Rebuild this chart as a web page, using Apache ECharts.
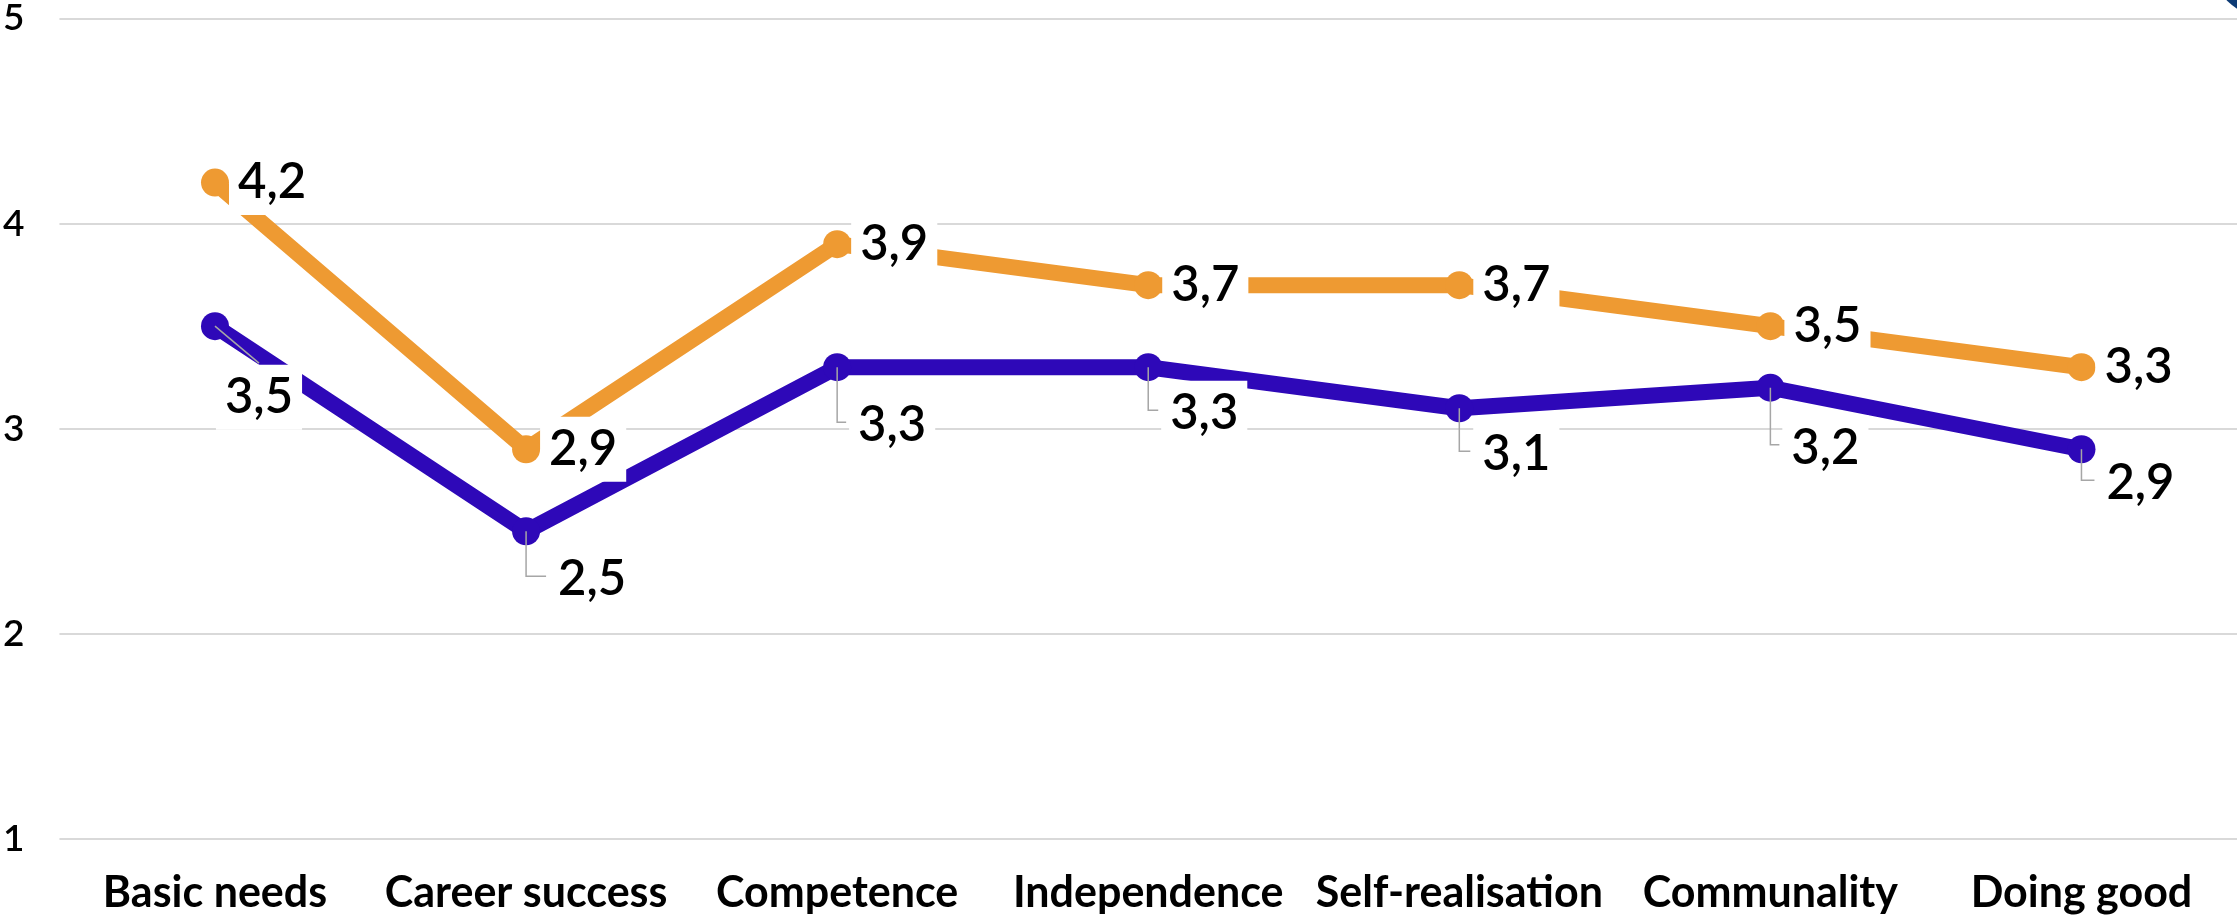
<!DOCTYPE html>
<html>
<head>
<meta charset="utf-8">
<script src="https://cdn.jsdelivr.net/npm/echarts@6/dist/echarts.min.js"></script>
<style>
  html, body { margin: 0; padding: 0; background: #ffffff; }
  #chart { width: 2237px; height: 917px; }
</style>
</head>
<body>
<div id="chart"></div>
<script>
// Categories along the x axis
const categories = ['Basic needs', 'Career success', 'Competence', 'Independence', 'Self-realisation', 'Communality', 'Doing good'];
// Upper (orange) series
const orangeValues = [4.2, 2.9, 3.9, 3.7, 3.7, 3.5, 3.3];
// Lower (blue) series
const blueValues = [3.5, 2.5, 3.3, 3.3, 3.1, 3.2, 2.9];
// Value axis range and step
const yMin = 1;
const yMax = 5;
const yStep = 1;

const ORANGE = '#EE9A32';
const BLUE = '#2E08B8';
const GUIDE = '#a6a6a6';
const FONT = 'Lato, "Open Sans", sans-serif';

// decimal comma
const fmt = v => Number(v).toFixed(1).replace('.', ',');

// where each lower-series label sits relative to its point (pixels)
const blueLabelShift = [[44, 71], [66, 48], [55, 58], [56, 46], [57, 46], [55, 60], [59, 34]];
// half label width plus a small gap, used to stop the guide line before the text
const GUIDE_GAP = 46;

const valueLabel = {
  fontFamily: FONT,
  fontSize: 49,
  fontWeight: 600,
  color: '#000',
  backgroundColor: '#ffffff',
  padding: [8, 9],
  formatter: p => fmt(p.value)
};

const blueData = blueValues.map((v, i) => ({
  value: v,
  label: { offset: blueLabelShift[i] }
}));

// guide lines from each lower point to its label
function renderGuide(params, api) {
  const i = params.dataIndex;
  const p = api.coord([api.value(0), api.value(1)]);
  const dx = blueLabelShift[i][0];
  const dy = blueLabelShift[i][1];
  let pts;
  if (dy > 65) {
    // label far below: straight line into the top of the label box
    pts = [p, [p[0] + dx, p[1] + dy - 34]];
  } else {
    pts = [p, [p[0], p[1] + dy - 3], [p[0] + dx - GUIDE_GAP, p[1] + dy - 3]];
  }
  return {
    type: 'polyline',
    shape: { points: pts },
    style: { stroke: GUIDE, lineWidth: 1.5, fill: null }
  };
}

const chart = echarts.init(document.getElementById('chart'), null, { renderer: 'canvas' });

chart.setOption({
  animation: false,
  backgroundColor: '#ffffff',
  grid: { left: 57, right: -2, top: 15.7, bottom: 78, containLabel: false },
  xAxis: {
    type: 'category',
    data: categories,
    boundaryGap: true,
    axisLine: { show: false },
    axisTick: { show: false },
    splitLine: { show: false },
    axisLabel: {
      interval: 0,
      margin: 33,
      fontFamily: FONT,
      fontSize: 43,
      fontWeight: 'bold',
      color: '#000'
    }
  },
  yAxis: {
    type: 'value',
    min: yMin,
    max: yMax,
    interval: yStep,
    axisLine: { show: false },
    axisTick: { show: false },
    splitLine: { lineStyle: { color: '#d9d9d9', width: 2 } },
    axisLabel: {
      margin: 35,
      fontFamily: FONT,
      fontSize: 37,
      fontWeight: 600,
      color: '#000'
    }
  },
  graphic: [{
    type: 'circle',
    shape: { cx: 2260, cy: -30, r: 45 },
    style: { fill: '#0d3b75' },
    silent: true
  }],
  series: [
    {
      name: 'Upper',
      type: 'line',
      z: 3,
      data: orangeValues,
      symbol: 'circle',
      symbolSize: 28,
      showAllSymbol: true,
      lineStyle: { color: ORANGE, width: 16 },
      itemStyle: { color: ORANGE },
      emphasis: { disabled: true },
      label: Object.assign({ show: true, position: 'right', distance: 0 }, valueLabel)
    },
    {
      name: 'Lower',
      type: 'line',
      z: 2,
      data: blueData,
      symbol: 'circle',
      symbolSize: 28,
      showAllSymbol: true,
      lineStyle: { color: BLUE, width: 16 },
      itemStyle: { color: BLUE },
      emphasis: { disabled: true },
      label: Object.assign({ show: true, position: 'inside' }, valueLabel)
    },
    {
      name: 'Guides',
      type: 'custom',
      z: 3,
      silent: true,
      data: blueValues.map((v, i) => [i, v]),
      renderItem: renderGuide
    }
  ]
});
</script>
</body>
</html>
